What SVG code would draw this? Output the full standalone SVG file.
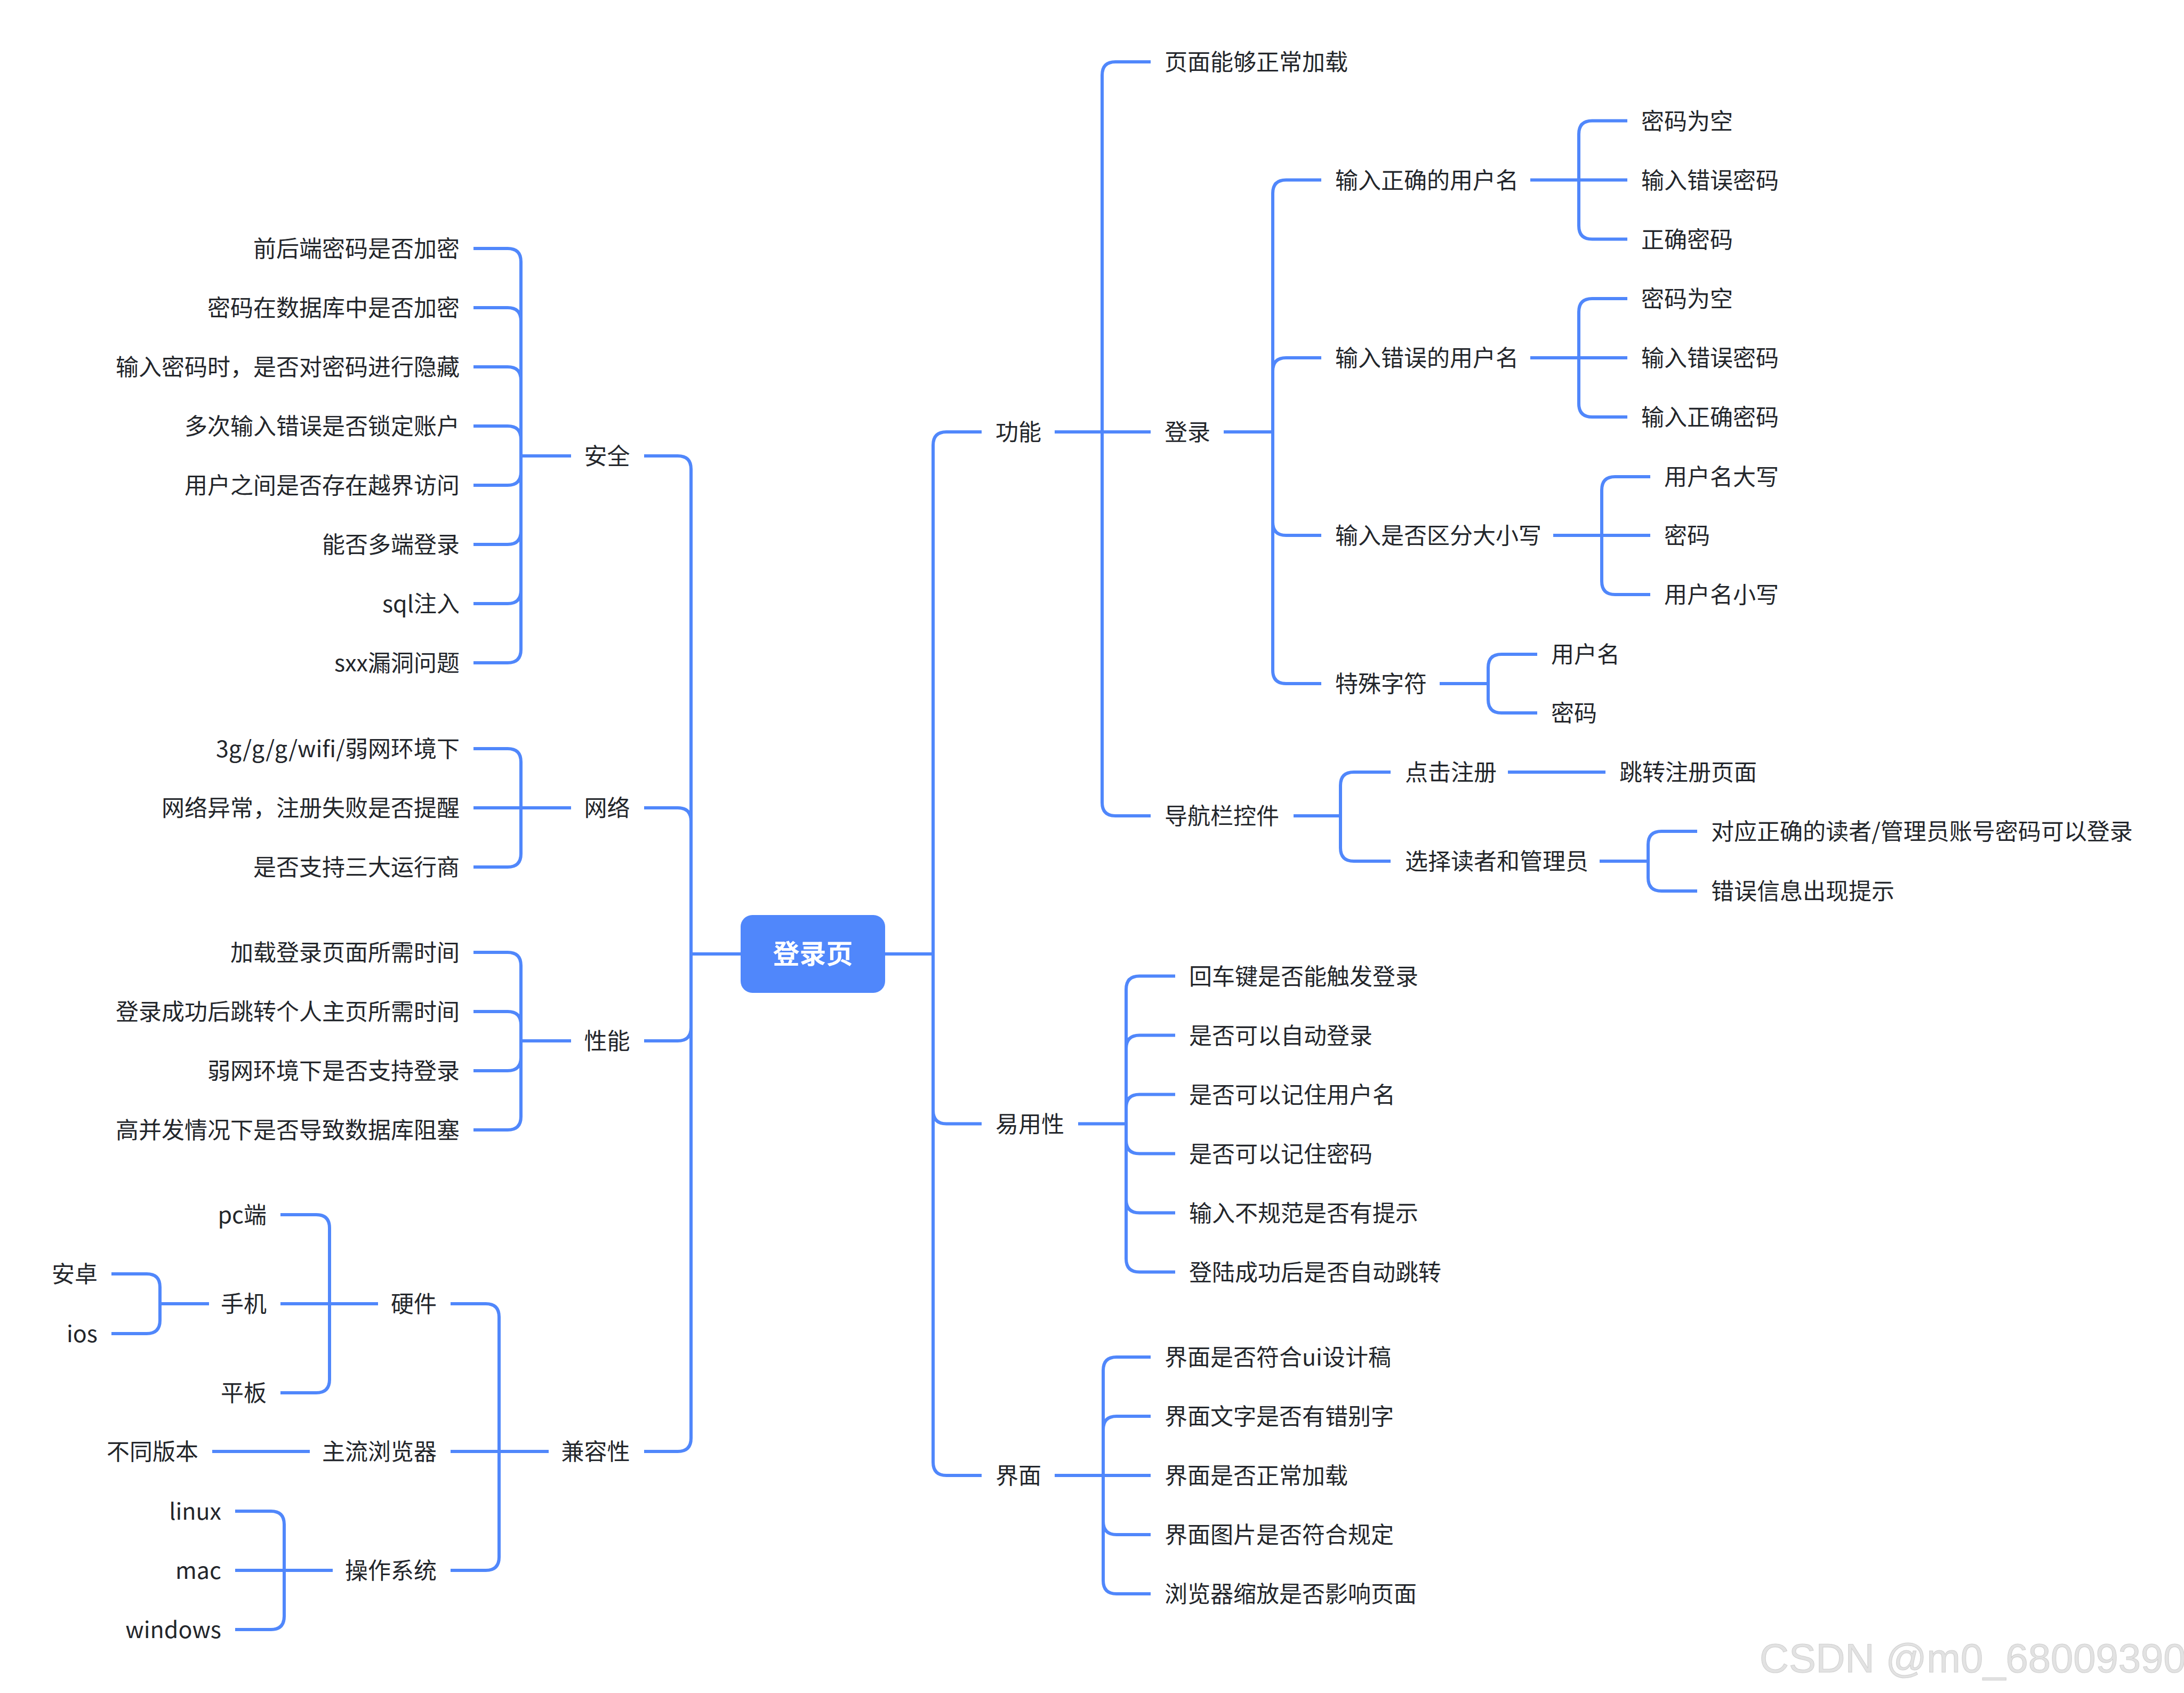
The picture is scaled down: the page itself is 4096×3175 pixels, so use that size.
<svg xmlns="http://www.w3.org/2000/svg" width="4096" height="3175" viewBox="0 0 4096 3175">
<style>
.ln{fill:none;stroke:#5087fb;stroke-width:6}
.t{font-family:"Noto Sans CJK SC","Noto Sans",sans-serif;font-size:43px;fill:#23262b}
.e{text-anchor:end}
.root{font-family:"Noto Sans CJK SC","Noto Sans",sans-serif;font-size:50px;font-weight:bold;fill:#ffffff;text-anchor:middle}
.wm{font-family:"Liberation Sans",Arial,sans-serif;font-size:76px;fill:#e2e2e2;stroke:#cfcfcf;stroke-width:1}
</style>
<rect width="4096" height="3175" fill="#ffffff"/>
<g id="connectors" class="ln">
<path d="M1389 1789H1296M1660 1789H1750"/>
<path d="M1296 1789V880Q1296 855 1271 855H1208M1296 1789V1540Q1296 1515 1271 1515H1208M1296 1789V1927Q1296 1952 1271 1952H1208M1296 1789V2697Q1296 2722 1271 2722H1208"/>
<path d="M1071 855H977M977 855V491Q977 466 952 466H888M977 855V602Q977 577 952 577H888M977 855V713Q977 688 952 688H888M977 855V824Q977 799 952 799H888M977 855V885Q977 910 952 910H888M977 855V996Q977 1021 952 1021H888M977 855V1107Q977 1132 952 1132H888M977 855V1218Q977 1243 952 1243H888"/>
<path d="M1071 1515H977M977 1515V1429Q977 1404 952 1404H888M977 1515H888M977 1515V1601Q977 1626 952 1626H888"/>
<path d="M1071 1952H977M977 1952V1811Q977 1786 952 1786H888M977 1952V1922Q977 1897 952 1897H888M977 1952V1983Q977 2008 952 2008H888M977 1952V2094Q977 2119 952 2119H888"/>
<path d="M1029 2722H936M936 2722V2470Q936 2445 911 2445H845M936 2722H845M936 2722V2920Q936 2945 911 2945H845"/>
<path d="M709 2445H618M618 2445V2303Q618 2278 593 2278H526M618 2445H526M618 2445V2587Q618 2612 593 2612H526"/>
<path d="M392 2445H300M300 2445V2414Q300 2389 275 2389H209M300 2445V2476Q300 2501 275 2501H209"/>
<path d="M581 2722H398"/>
<path d="M624 2945H533M533 2945V2859Q533 2834 508 2834H441M533 2945H441M533 2945V3031Q533 3056 508 3056H441"/>
<path d="M1750 1789V835Q1750 810 1775 810H1841M1750 1789V2082.5Q1750 2107.5 1775 2107.5H1841M1750 1789V2742Q1750 2767 1775 2767H1841"/>
<path d="M1978 810H2067M2067 810V141Q2067 116 2092 116H2158M2067 810H2158M2067 810V1505Q2067 1530 2092 1530H2158"/>
<path d="M2295 810H2387M2387 810V362.5Q2387 337.5 2412 337.5H2478M2387 810V696Q2387 671 2412 671H2478M2387 810V979Q2387 1004 2412 1004H2478M2387 810V1257Q2387 1282 2412 1282H2478"/>
<path d="M2870 337.5H2961M2961 337.5V251.5Q2961 226.5 2986 226.5H3052M2961 337.5H3052M2961 337.5V423.5Q2961 448.5 2986 448.5H3052"/>
<path d="M2870 671H2961M2961 671V585Q2961 560 2986 560H3052M2961 671H3052M2961 671V757Q2961 782 2986 782H3052"/>
<path d="M2913 1004H3004M3004 1004V919Q3004 894 3029 894H3095M3004 1004H3095M3004 1004V1090Q3004 1115 3029 1115H3095"/>
<path d="M2700 1282H2791M2791 1282V1252Q2791 1227 2816 1227H2883M2791 1282V1312Q2791 1337 2816 1337H2883"/>
<path d="M2426 1530H2514M2514 1530V1473Q2514 1448 2539 1448H2608M2514 1530V1590Q2514 1615 2539 1615H2608"/>
<path d="M2828 1448H3011"/>
<path d="M3000 1615H3091M3091 1615V1584Q3091 1559 3116 1559H3183M3091 1615V1646Q3091 1671 3116 1671H3183"/>
<path d="M2022 2107.5H2112M2112 2107.5V1855.5Q2112 1830.5 2137 1830.5H2204M2112 2107.5V1966.5Q2112 1941.5 2137 1941.5H2204M2112 2107.5V2077.5Q2112 2052.5 2137 2052.5H2204M2112 2107.5V2138.5Q2112 2163.5 2137 2163.5H2204M2112 2107.5V2249.5Q2112 2274.5 2137 2274.5H2204M2112 2107.5V2360.5Q2112 2385.5 2137 2385.5H2204"/>
<path d="M1978 2767H2069M2069 2767V2570Q2069 2545 2094 2545H2158M2069 2767V2681Q2069 2656 2094 2656H2158M2069 2767H2158M2069 2767V2853Q2069 2878 2094 2878H2158M2069 2767V2964Q2069 2989 2094 2989H2158"/>
</g>
<g id="root"><rect x="1389" y="1716" width="271" height="146" rx="22" fill="#5087fb"/><text class="root" x="1524.5" y="1807">登录页</text></g>
<g id="n-anquan"><text class="t e" x="1181.5" y="871">安全</text></g>
<g id="n-s1"><text class="t e" x="862" y="482">前后端密码是否加密</text></g>
<g id="n-s2"><text class="t e" x="862" y="593">密码在数据库中是否加密</text></g>
<g id="n-s3"><text class="t e" x="862" y="704">输入密码时，是否对密码进行隐藏</text></g>
<g id="n-s4"><text class="t e" x="862" y="815">多次输入错误是否锁定账户</text></g>
<g id="n-s5"><text class="t e" x="862" y="926">用户之间是否存在越界访问</text></g>
<g id="n-s6"><text class="t e" x="862" y="1037">能否多端登录</text></g>
<g id="n-s7"><text class="t e" x="862" y="1148">sql注入</text></g>
<g id="n-s8"><text class="t e" x="862" y="1259">sxx漏洞问题</text></g>
<g id="n-wangluo"><text class="t e" x="1181.5" y="1531">网络</text></g>
<g id="n-w1"><text class="t e" x="862" y="1420">3g/g/g/wifi/弱网环境下</text></g>
<g id="n-w2"><text class="t e" x="862" y="1531">网络异常，注册失败是否提醒</text></g>
<g id="n-w3"><text class="t e" x="862" y="1642">是否支持三大运行商</text></g>
<g id="n-xingneng"><text class="t e" x="1181.5" y="1968">性能</text></g>
<g id="n-p1"><text class="t e" x="862" y="1802">加载登录页面所需时间</text></g>
<g id="n-p2"><text class="t e" x="862" y="1913">登录成功后跳转个人主页所需时间</text></g>
<g id="n-p3"><text class="t e" x="862" y="2024">弱网环境下是否支持登录</text></g>
<g id="n-p4"><text class="t e" x="862" y="2135">高并发情况下是否导致数据库阻塞</text></g>
<g id="n-jianrong"><text class="t e" x="1181.5" y="2738">兼容性</text></g>
<g id="n-yingjian"><text class="t e" x="819" y="2461">硬件</text></g>
<g id="n-pc"><text class="t e" x="500" y="2294">pc端</text></g>
<g id="n-shouji"><text class="t e" x="500" y="2461">手机</text></g>
<g id="n-pingban"><text class="t e" x="500" y="2628">平板</text></g>
<g id="n-anzhuo"><text class="t e" x="183" y="2405">安卓</text></g>
<g id="n-ios"><text class="t e" x="183" y="2517">ios</text></g>
<g id="n-liulanqi"><text class="t e" x="819" y="2738">主流浏览器</text></g>
<g id="n-banben"><text class="t e" x="372" y="2738">不同版本</text></g>
<g id="n-os"><text class="t e" x="819" y="2961">操作系统</text></g>
<g id="n-linux"><text class="t e" x="415" y="2850">linux</text></g>
<g id="n-mac"><text class="t e" x="415" y="2961">mac</text></g>
<g id="n-windows"><text class="t e" x="415" y="3072">windows</text></g>
<g id="n-gongneng"><text class="t" x="1867" y="826">功能</text></g>
<g id="n-f1"><text class="t" x="2184" y="132">页面能够正常加载</text></g>
<g id="n-denglu"><text class="t" x="2184" y="826">登录</text></g>
<g id="n-l1"><text class="t" x="2504" y="353.5">输入正确的用户名</text></g>
<g id="n-l1a"><text class="t" x="3078" y="242.5">密码为空</text></g>
<g id="n-l1b"><text class="t" x="3078" y="353.5">输入错误密码</text></g>
<g id="n-l1c"><text class="t" x="3078" y="464.5">正确密码</text></g>
<g id="n-l2"><text class="t" x="2504" y="687">输入错误的用户名</text></g>
<g id="n-l2a"><text class="t" x="3078" y="576">密码为空</text></g>
<g id="n-l2b"><text class="t" x="3078" y="687">输入错误密码</text></g>
<g id="n-l2c"><text class="t" x="3078" y="798">输入正确密码</text></g>
<g id="n-l3"><text class="t" x="2504" y="1020">输入是否区分大小写</text></g>
<g id="n-l3a"><text class="t" x="3121" y="910">用户名大写</text></g>
<g id="n-l3b"><text class="t" x="3121" y="1020">密码</text></g>
<g id="n-l3c"><text class="t" x="3121" y="1131">用户名小写</text></g>
<g id="n-l4"><text class="t" x="2504" y="1298">特殊字符</text></g>
<g id="n-l4a"><text class="t" x="2909" y="1243">用户名</text></g>
<g id="n-l4b"><text class="t" x="2909" y="1353">密码</text></g>
<g id="n-nav"><text class="t" x="2184" y="1546">导航栏控件</text></g>
<g id="n-nav1"><text class="t" x="2635" y="1464">点击注册</text></g>
<g id="n-nav1a"><text class="t" x="3037" y="1464">跳转注册页面</text></g>
<g id="n-nav2"><text class="t" x="2635" y="1631">选择读者和管理员</text></g>
<g id="n-nav2a"><text class="t" x="3209" y="1575">对应正确的读者/管理员账号密码可以登录</text></g>
<g id="n-nav2b"><text class="t" x="3209" y="1687">错误信息出现提示</text></g>
<g id="n-yiyong"><text class="t" x="1867" y="2123.5">易用性</text></g>
<g id="n-u1"><text class="t" x="2230" y="1846.5">回车键是否能触发登录</text></g>
<g id="n-u2"><text class="t" x="2230" y="1957.5">是否可以自动登录</text></g>
<g id="n-u3"><text class="t" x="2230" y="2068.5">是否可以记住用户名</text></g>
<g id="n-u4"><text class="t" x="2230" y="2179.5">是否可以记住密码</text></g>
<g id="n-u5"><text class="t" x="2230" y="2290.5">输入不规范是否有提示</text></g>
<g id="n-u6"><text class="t" x="2230" y="2401.5">登陆成功后是否自动跳转</text></g>
<g id="n-jiemian"><text class="t" x="1867" y="2783">界面</text></g>
<g id="n-i1"><text class="t" x="2184" y="2561">界面是否符合ui设计稿</text></g>
<g id="n-i2"><text class="t" x="2184" y="2672">界面文字是否有错别字</text></g>
<g id="n-i3"><text class="t" x="2184" y="2783">界面是否正常加载</text></g>
<g id="n-i4"><text class="t" x="2184" y="2894">界面图片是否符合规定</text></g>
<g id="n-i5"><text class="t" x="2184" y="3005">浏览器缩放是否影响页面</text></g>
<text class="wm" x="3300" y="3136">CSDN @m0_68009390</text>
</svg>
